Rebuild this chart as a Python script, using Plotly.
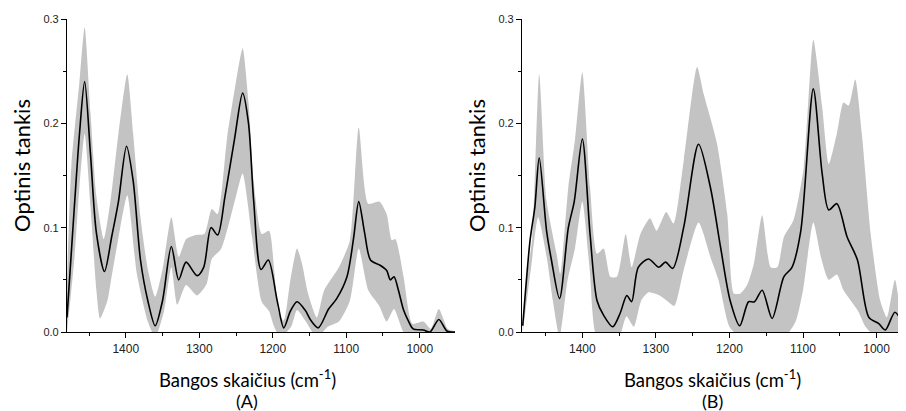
import plotly.graph_objects as go

# ---------------- Panel A ----------------
wn_A = [1480, 1470, 1463, 1456, 1448, 1440, 1429, 1419, 1410, 1399, 1390, 1380, 1370, 1360,
        1350, 1338, 1328, 1318, 1303, 1294, 1284, 1275, 1265, 1252, 1241, 1233, 1226, 1216,
        1206, 1194, 1185, 1176, 1167, 1156, 1148, 1138, 1124, 1113, 1099, 1090, 1083, 1075,
        1067, 1054, 1045, 1040, 1035, 1029, 1022, 1015, 1009, 995, 986, 974, 963, 952]
mean_A = [0.014, 0.12, 0.19, 0.240, 0.17, 0.095, 0.058, 0.092, 0.125, 0.178, 0.145, 0.069, 0.03, 0.006,
          0.03, 0.082, 0.050, 0.067, 0.054, 0.062, 0.100, 0.093, 0.13, 0.185, 0.229, 0.2, 0.126, 0.060,
          0.069, 0.030, 0.004, 0.02, 0.029, 0.021, 0.011, 0.004, 0.022, 0.032, 0.053, 0.09, 0.125, 0.095,
          0.069, 0.064, 0.059, 0.050, 0.053, 0.04, 0.021, 0.01, 0.003, 0.002, 0.0, 0.012, 0.001, 0.0]

up_wn_A = [1480, 1474, 1463, 1456, 1448, 1440, 1430, 1420, 1410, 1398, 1390, 1380, 1370, 1360,
           1350, 1338, 1328, 1318, 1305, 1293, 1283, 1275, 1262, 1250, 1241, 1233, 1226, 1215,
           1205, 1198, 1192, 1185, 1176, 1167, 1160, 1152, 1140, 1130, 1110, 1095, 1083, 1070,
           1055, 1045, 1038, 1033, 1022, 1010, 995, 985, 974, 962, 952]
up_A = [0.05, 0.16, 0.24, 0.292, 0.21, 0.13, 0.089, 0.13, 0.19, 0.247, 0.19, 0.110, 0.06, 0.034,
        0.06, 0.110, 0.072, 0.089, 0.093, 0.094, 0.118, 0.113, 0.187, 0.24, 0.272, 0.22, 0.145, 0.094,
        0.097, 0.059, 0.018, 0.011, 0.05, 0.080, 0.065, 0.037, 0.014, 0.040, 0.062, 0.088, 0.196, 0.123,
        0.125, 0.113, 0.088, 0.089, 0.053, 0.008, 0.010, 0.003, 0.022, 0.003, 0.0]

lo_wn_A = [1480, 1470, 1463, 1456, 1448, 1440, 1435, 1425, 1420, 1410, 1398, 1385, 1370, 1360,
           1348, 1338, 1330, 1318, 1303, 1290, 1283, 1270, 1250, 1241, 1228, 1215, 1205, 1198,
           1190, 1175, 1167, 1155, 1140, 1125, 1110, 1095, 1083, 1070, 1055, 1045, 1035, 1022,
           1010, 952]
lo_A = [0.0, 0.07, 0.14, 0.19, 0.12, 0.04, 0.013, 0.03, 0.05, 0.09, 0.131, 0.056, 0.01, -0.005,
        0.02, 0.062, 0.026, 0.045, 0.035, 0.046, 0.07, 0.08, 0.13, 0.152, 0.09, 0.029, 0.02, 0.005,
        -0.005, 0.005, 0.021, 0.01, -0.005, 0.005, 0.01, 0.03, 0.080, 0.04, 0.025, 0.01, 0.022, 0.0,
        -0.005, -0.005]

# ---------------- Panel B ----------------
wn_B = [1481, 1471, 1464.5, 1458.6, 1448.6, 1442, 1431, 1419, 1411, 1400, 1389.5, 1380, 1371,
        1358.6, 1348.6, 1339.5, 1333, 1324, 1310, 1296, 1287, 1277, 1262, 1242, 1226, 1212, 1199,
        1186, 1174, 1166, 1155.5, 1142, 1126, 1115, 1103, 1086, 1074, 1065, 1054, 1040, 1026,
        1010.5, 997, 988, 975, 961]
mean_B = [0.006, 0.088, 0.12, 0.167, 0.097, 0.069, 0.032, 0.10, 0.125, 0.185, 0.094, 0.030, 0.016,
          0.005, 0.018, 0.035, 0.029, 0.062, 0.070, 0.062, 0.067, 0.061, 0.101, 0.180, 0.139, 0.081, 0.030,
          0.006, 0.029, 0.029, 0.040, 0.013, 0.053, 0.062, 0.097, 0.233, 0.152, 0.117, 0.123, 0.091, 0.069,
          0.014, 0.008, 0.002, 0.019, 0.002]

up_wn_B = [1481, 1475, 1468, 1458.6, 1448.6, 1435, 1430, 1419, 1410, 1400, 1389.5, 1380, 1371,
           1362, 1353, 1341, 1333, 1321, 1308, 1299, 1286, 1276, 1262, 1244, 1235, 1217, 1203, 1194,
           1185, 1176, 1167, 1155.5, 1144, 1135, 1126, 1113, 1099, 1086, 1074, 1065, 1054, 1045, 1038,
           1029, 1020, 1008, 995, 986, 975, 966, 958]
up_B = [0.0, 0.055, 0.09, 0.247, 0.126, 0.075, 0.056, 0.139, 0.184, 0.249, 0.139, 0.075, 0.080,
        0.053, 0.053, 0.094, 0.062, 0.094, 0.109, 0.097, 0.115, 0.104, 0.165, 0.254, 0.228, 0.181, 0.113, 0.037,
        0.037, 0.045, 0.065, 0.112, 0.062, 0.062, 0.091, 0.107, 0.158, 0.280, 0.216, 0.161, 0.190, 0.220, 0.217,
        0.242, 0.190, 0.094, 0.030, 0.014, 0.050, 0.014, 0.0]

lo_wn_B = [1481, 1470, 1460, 1448, 1440, 1431, 1420, 1410, 1400, 1390, 1380, 1360, 1350, 1340,
           1330, 1320, 1310, 1295, 1285, 1275, 1262, 1242, 1225, 1215, 1200, 1185, 1170, 1155, 1140,
           1125, 1110, 1100, 1086, 1075, 1065, 1054, 1045, 1035, 1025, 1015, 1000, 958]
lo_B = [0.0, 0.06, 0.11, 0.07, 0.03, -0.005, 0.05, 0.08, 0.125, 0.06, -0.005, -0.005, -0.005, 0.015,
        0.005, 0.03, 0.038, 0.035, 0.03, 0.025, 0.06, 0.105, 0.07, 0.05, 0.005, -0.005, -0.005, -0.005, -0.005,
        -0.005, 0.01, 0.04, 0.105, 0.07, 0.05, 0.055, 0.04, 0.03, 0.02, 0.005, -0.005, -0.005]

y_ticks = [0.0, 0.1, 0.2, 0.3]
y_ticklabels = ["0.0", "0.1", "0.2", "0.3"]
x_ticks = [1400, 1300, 1200, 1100, 1000]

GRAY = "#c3c3c3"
FONT_TITLE = "Lato, 'Open Sans', sans-serif"
FONT_TICK = "Liberation Sans, Arial, sans-serif"

fig = go.Figure()

def add_panel(xref, yref, up_x, up_y, lo_x, lo_y, mx, my):
    fig.add_trace(go.Scatter(
        x=list(up_x) + list(lo_x)[::-1], y=list(up_y) + list(lo_y)[::-1],
        mode="lines", fill="toself", fillcolor=GRAY, line=dict(width=0, color=GRAY, shape="spline", smoothing=0.6),
        hoverinfo="skip", showlegend=False, xaxis=xref, yaxis=yref))
    fig.add_trace(go.Scatter(
        x=mx, y=my, mode="lines", line=dict(color="black", width=1.6, shape="spline", smoothing=0.8),
        showlegend=False, xaxis=xref, yaxis=yref))

add_panel("x", "y", up_wn_A, up_A, lo_wn_A, lo_A, wn_A, mean_A)
add_panel("x2", "y2", up_wn_B, up_B, lo_wn_B, lo_B, wn_B, mean_B)

# page body adds an 8px offset; layout is expressed in figure pixels = screen pixels - 8
OFF = 8
W, H = 906 - OFF, 411 - OFF
L, T = 67 - OFF, 19 - OFF
PB = 332 - OFF              # plot bottom in figure pixels
B = H - PB
PW, PH = W - L, PB - T


def px(x):
    return (x - OFF - L) / PW


def py(y):
    return (PB - (y - OFF)) / PH


xax = dict(showgrid=False, zeroline=False, showline=True, linecolor="black", linewidth=1.2,
           ticks="outside", ticklen=5, tickwidth=1, tickcolor="black", automargin=False,
           tickvals=x_ticks, tickfont=dict(family=FONT_TICK, size=12, color="#222"),
           minor=dict(dtick=50, tick0=1000, ticks="outside", ticklen=3, tickcolor="black"),
           mirror=False)
yax = dict(showgrid=False, zeroline=False, showline=True, linecolor="black", linewidth=1.2,
           ticks="outside", ticklen=5, tickwidth=1, tickcolor="black", range=[0, 0.3], automargin=False,
           tickvals=y_ticks, ticktext=y_ticklabels, tickfont=dict(family=FONT_TICK, size=11, color="#222"),
           minor=dict(dtick=0.05, tick0=0, ticks="outside", ticklen=3, tickcolor="black"),
           domain=[0, 1])

fig.update_layout(
    width=W, height=H, margin=dict(l=L, r=0, t=T, b=B, autoexpand=False),
    paper_bgcolor="white", plot_bgcolor="white",
    xaxis=dict(xax, domain=[px(67), px(455)], range=[1480, 952], anchor="y"),
    yaxis=dict(yax, anchor="x"),
    xaxis2=dict(xax, domain=[px(522), 1.0], range=[1482, 960], anchor="y2"),
    yaxis2=dict(yax, anchor="x2"),
)

ann = []
for cx, label in [(247, "(A)"), (712, "(B)")]:
    ann.append(dict(x=px(cx), y=py(378), xref="paper", yref="paper", showarrow=False,
                    xanchor="center", yanchor="middle",
                    text="Bangos skaičius (cm<sup>-1</sup>)", font=dict(family=FONT_TITLE, size=18.5, color="black")))
    ann.append(dict(x=px(cx), y=py(401), xref="paper", yref="paper", showarrow=False,
                    xanchor="center", yanchor="middle",
                    text=label, font=dict(family=FONT_TITLE, size=18, color="black")))
for cx in [21, 476]:
    ann.append(dict(x=px(cx), y=py(166), xref="paper", yref="paper", showarrow=False, textangle=-90,
                    xanchor="center", yanchor="middle",
                    text="Optinis tankis", font=dict(family=FONT_TITLE, size=22, color="black")))
fig.update_layout(annotations=ann)

fig.write_html("out.html")
